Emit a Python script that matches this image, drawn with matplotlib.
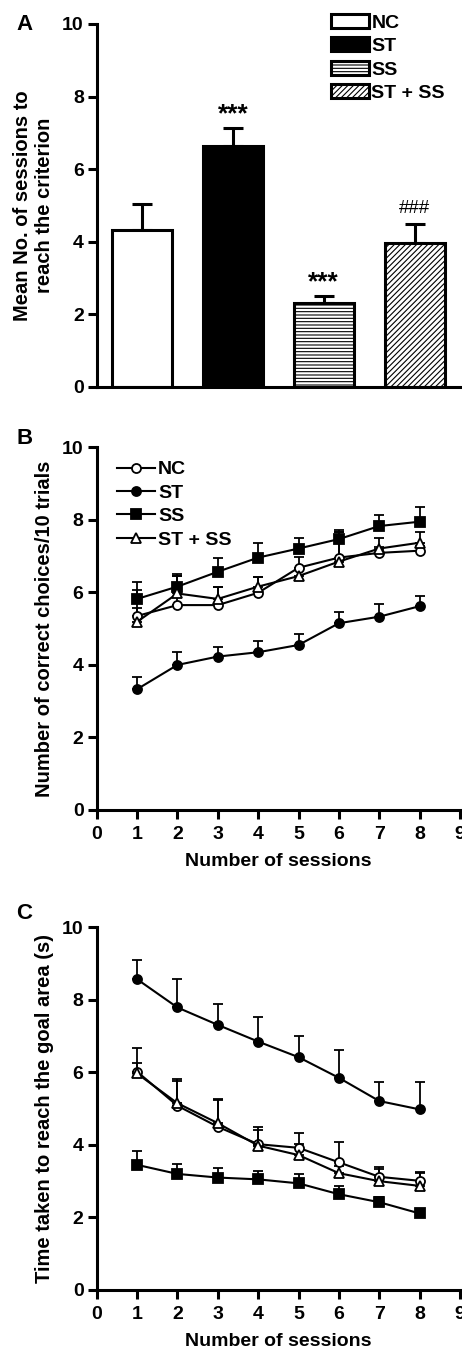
import matplotlib
matplotlib.use("Agg")
import matplotlib.pyplot as plt
import numpy as np

plt.rcParams['font.family'] = ['Liberation Sans', 'DejaVu Sans']
plt.rcParams['font.weight'] = 'bold'
plt.rcParams['hatch.linewidth'] = 0.8

# Panel A: sessions to criterion
groups = ["NC", "ST", "SS", "ST + SS"]
crit_mean = [4.32, 6.65, 2.31, 3.97]
crit_sem = [0.72, 0.48, 0.2, 0.52]
crit_marks = ["", "***", "***", "###"]

sessions = [1, 2, 3, 4, 5, 6, 7, 8]

# Panel B: correct choices / 10 trials
choice_nc = [5.35, 5.65, 5.65, 5.99, 6.68, 6.96, 7.09, 7.15]
choice_st = [3.33, 4.0, 4.23, 4.35, 4.55, 5.15, 5.33, 5.62]
choice_ss = [5.82, 6.16, 6.57, 6.96, 7.21, 7.47, 7.83, 7.95]
choice_stss = [5.19, 5.97, 5.82, 6.16, 6.45, 6.85, 7.21, 7.37]
choice_nc_sem = [0.72, 0.8, 0.49, 0.44, 0.29, 0.7, 0.15, 0.12]
choice_st_sem = [0.33, 0.36, 0.27, 0.31, 0.29, 0.3, 0.36, 0.28]
choice_ss_sem = [0.46, 0.36, 0.38, 0.4, 0.29, 0.26, 0.3, 0.41]
choice_stss_sem = [0.37, 0.48, 0.32, 0.27, 0.2, 0.82, 0.29, 0.3]

# Panel C: time to goal area (s)
time_nc = [6.02, 5.08, 4.5, 4.02, 3.92, 3.52, 3.12, 3.01]
time_st = [8.57, 7.79, 7.31, 6.85, 6.42, 5.85, 5.21, 4.98]
time_ss = [3.45, 3.2, 3.1, 3.05, 2.94, 2.64, 2.42, 2.11]
time_stss = [5.97, 5.15, 4.6, 3.98, 3.72, 3.22, 3.0, 2.87]
time_nc_sem = [0.64, 0.73, 0.78, 0.47, 0.42, 0.57, 0.26, 0.23]
time_st_sem = [0.53, 0.79, 0.58, 0.69, 0.59, 0.77, 0.53, 0.76]
time_ss_sem = [0.39, 0.27, 0.25, 0.24, 0.25, 0.23, 0.15, 0.1]
time_stss_sem = [0.3, 0.62, 0.64, 0.43, 0.3, 0.2, 0.34, 0.35]

fig = plt.figure(figsize=(4.62, 13.54), dpi=100)

FS = 14


def style_axis(ax):
    for s in ["top", "right"]:
        ax.spines[s].set_visible(False)
    for s in ["left", "bottom"]:
        ax.spines[s].set_linewidth(2.2)
    ax.tick_params(width=2.2, length=6.5, labelsize=FS, pad=3)
    ax.tick_params(axis="x", pad=5)
    ax.set_ylim(0, 10)
    ax.set_yticks([0, 2, 4, 6, 8, 10])
    for lab in ax.get_yticklabels() + ax.get_xticklabels():
        lab.set_fontweight('bold')


# ---- A ----
axA = fig.add_axes([0.21, 0.7142, 0.79, 0.2681])
style_axis(axA)
x = np.arange(len(groups))
faces = ["white", "black", "white", "white"]
hatches = [None, None, "-----", "//////"]
bars = axA.bar(x, crit_mean, width=0.66, color=faces, edgecolor="black",
               linewidth=2.2, zorder=2)
for b, h in zip(bars, hatches):
    if h:
        b.set_hatch(h)
axA.errorbar(x, crit_mean, yerr=[np.zeros(4), crit_sem], fmt="none",
             ecolor="black", elinewidth=2.2, capsize=7, capthick=2.2, zorder=1)
for xi, m, e, t in zip(x, crit_mean, crit_sem, crit_marks):
    if t == "***":
        axA.text(xi, m + e + 0.05, t, ha="center", va="bottom", fontsize=19,
                 fontweight="bold")
    elif t:
        axA.text(xi, m + e + 0.2, t, ha="center", va="bottom", fontsize=13.5,
                 fontweight="normal")
axA.set_xlim(-0.495, 3.52)
axA.set_xticks([])
axA.set_ylabel("Mean No. of sessions to\nreach the criterion", fontsize=14.5,
               fontweight="bold", labelpad=6)
leg = axA.legend(bars, groups, loc="upper left", bbox_to_anchor=(0.64, 1.028),
                 frameon=False, fontsize=FS, handlelength=1.95, handleheight=0.72,
                 handletextpad=0.15, labelspacing=0.3, borderaxespad=0,
                 borderpad=0)
for t in leg.get_texts():
    t.set_fontweight("bold")
fig.text(0.035, 0.982, "A", fontsize=16, fontweight="bold", va="center")


def line_panel(ax, series, ylabel):
    style_axis(ax)
    handles = []
    for y, e, mk, fc, lab in series:
        c = ax.errorbar(sessions, y, yerr=[np.zeros(len(y)), e], color="black",
                        marker=mk, markerfacecolor=fc, markeredgecolor="black",
                        markersize=6.5, markeredgewidth=1.3, linewidth=1.5,
                        elinewidth=1.3, capsize=3.5, capthick=1.3, label=lab)
        handles.append(c[0])
    ax.set_xlim(0, 9)
    ax.set_xticks(range(10))
    for lab in ax.get_xticklabels():
        lab.set_fontweight('bold')
    ax.set_xlabel("Number of sessions", fontsize=FS, fontweight="bold",
                  labelpad=7)
    ax.set_ylabel(ylabel, fontsize=14.5, fontweight="bold", labelpad=6)
    return handles


# ---- B ----
axB = fig.add_axes([0.2093, 0.4018, 0.7864, 0.2678])
hB = line_panel(axB, [
    (choice_nc, choice_nc_sem, "o", "white", "NC"),
    (choice_st, choice_st_sem, "o", "black", "ST"),
    (choice_ss, choice_ss_sem, "s", "black", "SS"),
    (choice_stss, choice_stss_sem, "^", "white", "ST + SS"),
], "Number of correct choices/10 trials")
legB = axB.legend(hB, groups, loc="upper left", bbox_to_anchor=(0.056, 0.963),
                  frameon=False, fontsize=FS, handlelength=1.95,
                  handletextpad=0.15, labelspacing=0.3, borderaxespad=0,
                  borderpad=0)
for t in legB.get_texts():
    t.set_fontweight("bold")
fig.text(0.035, 0.676, "B", fontsize=16, fontweight="bold", va="center")

# ---- C ----
axC = fig.add_axes([0.2093, 0.0473, 0.7864, 0.2678])
line_panel(axC, [
    (time_nc, time_nc_sem, "o", "white", "NC"),
    (time_st, time_st_sem, "o", "black", "ST"),
    (time_ss, time_ss_sem, "s", "black", "SS"),
    (time_stss, time_stss_sem, "^", "white", "ST + SS"),
], "Time taken to reach the goal area (s)")
fig.text(0.035, 0.325, "C", fontsize=16, fontweight="bold", va="center")

fig.savefig("out.png", dpi=100)
